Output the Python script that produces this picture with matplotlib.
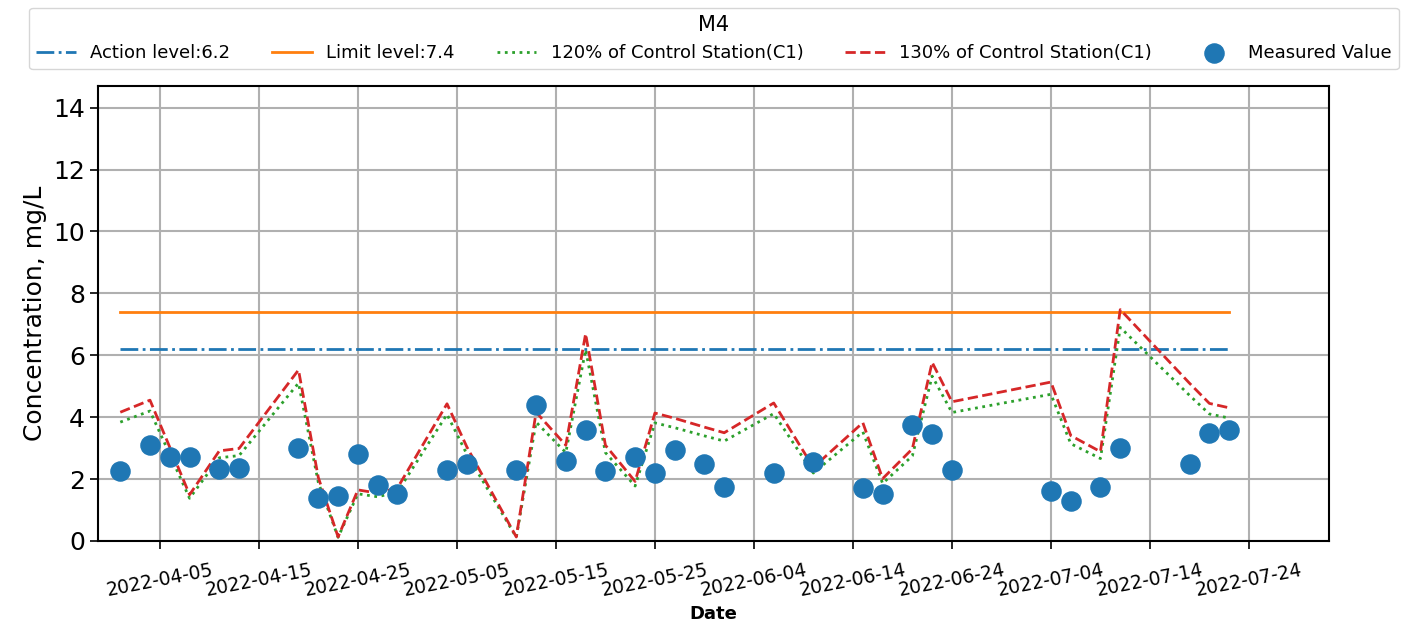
import matplotlib
matplotlib.use("Agg")
import matplotlib.pyplot as plt
import matplotlib.dates as mdates
import numpy as np
import pandas as pd

# measured values at station M4
dates = ["2022-04-01", "2022-04-04", "2022-04-06", "2022-04-08", "2022-04-11", "2022-04-13",
         "2022-04-19", "2022-04-21", "2022-04-23", "2022-04-25", "2022-04-27", "2022-04-29",
         "2022-05-04", "2022-05-06", "2022-05-11", "2022-05-13", "2022-05-16", "2022-05-18",
         "2022-05-20", "2022-05-23", "2022-05-25", "2022-05-27", "2022-05-30", "2022-06-01",
         "2022-06-06", "2022-06-10", "2022-06-15", "2022-06-17", "2022-06-20", "2022-06-22",
         "2022-06-24", "2022-07-04", "2022-07-06", "2022-07-09", "2022-07-11", "2022-07-18",
         "2022-07-20", "2022-07-22"]
measured = [2.26, 3.1, 2.7, 2.7, 2.33, 2.36,
            3.0, 1.4, 1.45, 2.8, 1.8, 1.52,
            2.3, 2.5, 2.3, 4.4, 2.6, 3.6,
            2.26, 2.7, 2.2, 2.95, 2.5, 1.75,
            2.2, 2.55, 1.7, 1.52, 3.75, 3.45,
            2.3, 1.6, 1.3, 1.75, 3.0, 2.5,
            3.5, 3.6]
# control station C1
control = [3.2, 3.5, 2.33, 1.15, 2.24, 2.3,
           4.25, 1.58, 0.1, 1.27, 1.19, 1.32,
           3.41, 2.34, 0.1, 3.2, 2.38, 5.15,
           2.38, 1.48, 3.18, 3.05, 2.83, 2.69,
           3.43, 1.83, 2.94, 1.55, 2.29, 4.44,
           3.46, 3.95, 2.62, 2.22, 5.75, 3.92,
           3.42, 3.31]

action_level = 6.2
limit_level = 7.4

x = pd.to_datetime(dates)
c1 = np.array(control)

fig = plt.figure(figsize=(14.16, 6.29), dpi=100)
ax = fig.add_axes([98/1416, 1-541/629, (1329-98)/1416, (541-86)/629])

ax.plot(x, [action_level]*len(x), '-.', color='tab:blue', lw=2, label='Action level:6.2')
ax.plot(x, [limit_level]*len(x), '-', color='tab:orange', lw=2, label='Limit level:7.4')
ax.plot(x, c1*1.2, ':', color='tab:green', lw=2, label='120% of Control Station(C1)')
ax.plot(x, c1*1.3, '--', color='tab:red', lw=2, label='130% of Control Station(C1)')
ax.scatter(x, measured, s=190, color='tab:blue', zorder=3, label='Measured Value')

ax.set_xlim(pd.Timestamp("2022-03-29 18:00"), pd.Timestamp("2022-08-01 02:00"))
ax.set_ylim(0, 14.7)
ax.set_yticks(range(0, 15, 2))
ticks = pd.date_range("2022-04-05", "2022-07-24", freq="10D")
ax.set_xticks(ticks)
ax.xaxis.set_major_formatter(mdates.DateFormatter("%Y-%m-%d"))
plt.setp(ax.get_xticklabels(), rotation=11, ha='center', fontsize=13.5)
ax.tick_params(axis='y', labelsize=18, length=6, width=1.2)
ax.tick_params(axis='x', length=6, width=1.2, pad=8)
for s in ax.spines.values():
    s.set_linewidth(1.5)
ax.grid(True, color='#b0b0b0', lw=1.5)
ax.set_axisbelow(True)

ax.set_ylabel('Concentration, mg/L', fontsize=18)
ax.set_xlabel('Date', fontsize=13, fontweight='bold', labelpad=4)

fig.legend(loc='center', ncol=5, mode='expand', title='M4', fontsize=13, title_fontsize=15,
           bbox_to_anchor=(20/1416, 1-75/629, (1408-20)/1416, 73/629), handlelength=2.2)

fig.savefig('out.png', dpi=100)
